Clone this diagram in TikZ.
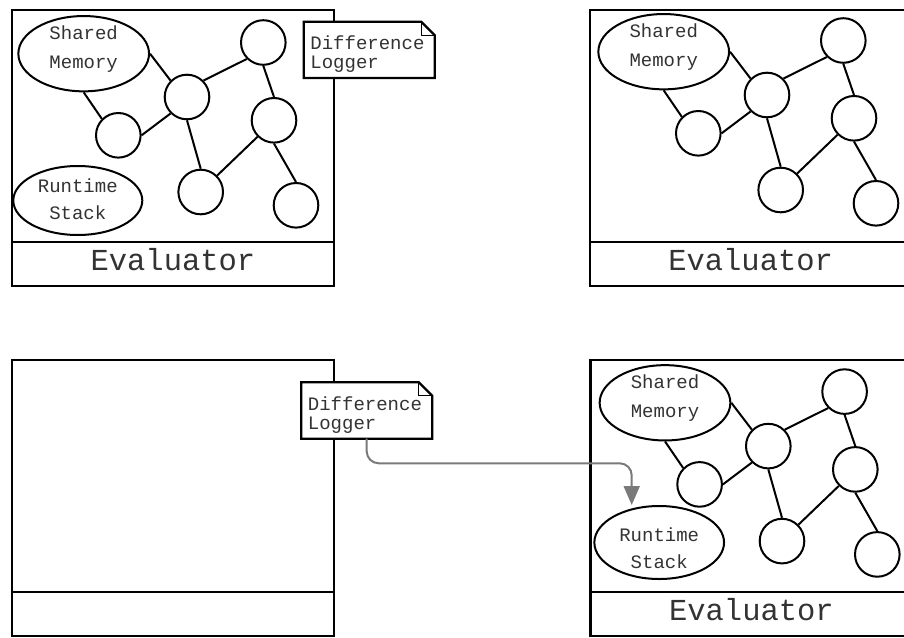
\documentclass[tikz,border=0pt]{standalone}
\usepackage{fontspec}
\newfontfamily\labelmono{Liberation Mono}
\usetikzlibrary{shapes.geometric,arrows.meta,calc}

% outline of a note with a folded top-right corner, drawn round a named node
\newcommand\drawnoteoutline[1]{%
  \draw[noteline] (#1.south west) -- (#1.north west)
    -- ([xshift=-13.5pt]#1.north east) -- ([yshift=-13.5pt]#1.north east)
    -- (#1.south east) -- cycle;
  \draw[foldline] ([xshift=-13.5pt]#1.north east) |- ([yshift=-13.5pt]#1.north east);
}

\tikzset{
  panel/.style={rectangle, draw, line width=2.3pt, inner sep=0pt,
    minimum width=322pt, minimum height=276.5pt, anchor=north west},
  frameline/.style={line width=2.3pt},
  edge/.style={line width=2pt},
  vertex/.style={circle, draw, line width=2pt, minimum size=44.6pt, inner sep=0pt},
  region/.style={ellipse, draw, line width=2pt, inner sep=0pt, align=center,
    text=black!80, text depth=0pt,
    font=\labelmono\fontsize{19}{29}\selectfont},
  stackregion/.style={region, font=\labelmono\fontsize{19}{26.4}\selectfont},
  evallabel/.style={anchor=base, inner sep=0pt, text=black!80,
    font=\labelmono\fontsize{30.5}{36}\selectfont},
  note/.style={rectangle, fill=white, inner xsep=6.5pt, inner ysep=0pt,
    minimum width=130.6pt, minimum height=56pt, text width=117.6pt,
    align=left, text=black!80, text height=10pt, text depth=11pt,
    font=\labelmono\fontsize{19}{19}\selectfont},
  noteline/.style={line width=2.3pt, line join=miter},
  foldline/.style={line width=1pt},
  flow/.style={draw=black!52, line width=2pt, rounded corners=12pt,
    -{Triangle[length=19pt,width=16pt]}},
  pics/evalgraph/.style={code={
    \node[region, minimum width=130.7pt, minimum height=75.3pt, text height=29.2pt]
      (-mem) at (0,0) {Shared\\Memory};
    \node[vertex] (-a) at (179.6,-11.2) {};
    \node[vertex] (-b) at (103.3,43.3) {};
    \node[vertex] (-c) at (34.6,81.6) {};
    \node[vertex] (-d) at (190.3,66.6) {};
    \node[vertex] (-e) at (117,138.3) {};
    \node[vertex] (-f) at (212.3,151.6) {};
    \draw[edge] (-mem.east) -- (-b.north west);
    \draw[edge] (-mem.south) -- (-c.north west);
    \draw[edge] (-c.east) -- (-b.south west);
    \draw[edge] (-b.north east) -- (-a.south west);
    \draw[edge] (-a.south) -- (-d.north);
    \draw[edge] (-b.south) -- (-e.north);
    \draw[edge] (-e.north east) -- (-d.south west);
    \draw[edge] (-d.south) -- (-f.north);
  }},
}

\begin{document}
\begin{tikzpicture}[x=1pt,y=-1pt]
\useasboundingbox (0,0) rectangle (904,637);
\clip (0,0) rectangle (904,637);

% evaluator frames with their name strips
\node[panel] (tl-box) at (10.8,8.5) {};
\node[panel] (tr-box) at (588.5,8.5) {};
\node[panel] (bl-box) at (10.8,358.5) {};
\node[panel] (br-box) at (589.3,358.5) {};
\foreach \p in {tl,tr,bl,br}{
  \draw[frameline] ([yshift=45.5pt]\p-box.south west) -- ([yshift=45.5pt]\p-box.south east);
}
\node[evallabel] (tl-eval) at ([yshift=16.7pt]tl-box.south) {Evaluator};
\node[evallabel] (tr-eval) at ([yshift=16.7pt]tr-box.south) {Evaluator};
\node[evallabel] (br-eval) at ([yshift=16.7pt]br-box.south) {Evaluator};

% object graphs with shared memory
\pic (tl) at (83.7,53.7) {evalgraph};
\pic (tr) at (663.7,51.7) {evalgraph};
\pic (br) at (665,402.8) {evalgraph};

% runtime stacks
\node[stackregion, minimum width=129pt, minimum height=69pt, text height=37pt]
  (tl-rs) at (77.8,200.5) {Runtime\\Stack};
\node[stackregion, minimum width=129.7pt, minimum height=73pt, text height=51.4pt]
  (br-rs) at (659.2,542.5) {Runtime\\Stack};

% difference loggers
\node[note] (tl-note) at (369.2,49.85) {Difference\\Logger};
\drawnoteoutline{tl-note}
\node[note] (bl-note) at (366.7,410.5) {Difference\\Logger};
\drawnoteoutline{bl-note}

% replay of the logged differences into the fresh evaluator
\coordinate (br-tip) at ([xshift=-27.5pt]br-rs.north);
\draw[flow] (bl-note.south) |- ([yshift=41.7pt]br-tip) -- (br-tip);
\end{tikzpicture}
\end{document}
